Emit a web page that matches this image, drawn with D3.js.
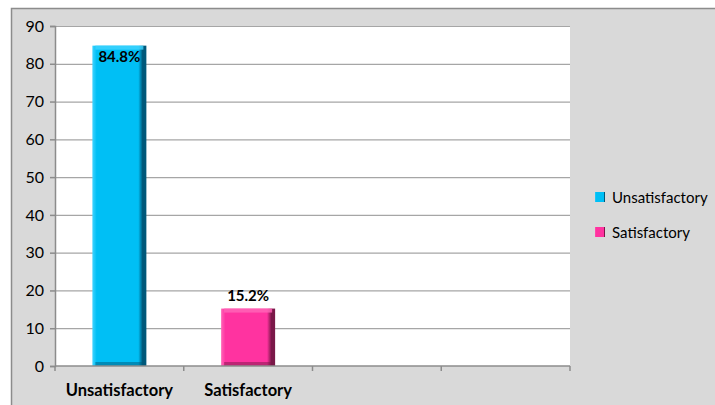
<!DOCTYPE html>
<html><head><meta charset="utf-8">
<script src="https://cdn.jsdelivr.net/npm/d3@7"></script>
<style>body{margin:0;background:#fff}svg{display:block}</style>
</head><body><svg id="c" width="715" height="405"></svg>
<script>
const categories = ["Unsatisfactory", "Satisfactory", "", ""];
const series = ["Unsatisfactory", "Satisfactory"];
const values = [84.8, 15.2];
const labels = ["84.8%", "15.2%"];
const yTicks = [0, 10, 20, 30, 40, 50, 60, 70, 80, 90];
const colors = [{main:"#00BFF5", light:"#40D4FF", dark:"#00587A"}, {main:"#FF33A0", light:"#FF66B8", dark:"#7A1848"}];

const svg = d3.select("#c");
const font = "Lato, 'Open Sans', sans-serif";
svg.append("rect").attr("x",0).attr("y",0).attr("width",715).attr("height",405).attr("fill","#fff");
svg.append("rect").attr("x",11.5).attr("y",8.5).attr("width",710).attr("height",410)
  .attr("fill","#d9d9d9").attr("stroke","#8c8c8c").attr("stroke-width",1.5);

const m = {l:55, r:570, t:26, b:366};
const x = d3.scaleBand().domain(d3.range(categories.length)).range([m.l, m.r]).paddingInner(0).paddingOuter(0);
const y = d3.scaleLinear().domain([0, 90]).range([m.b, m.t]);

svg.append("rect").attr("x",m.l).attr("y",m.t).attr("width",m.r-m.l).attr("height",m.b-m.t).attr("fill","#fff");

svg.append("g").selectAll("line").data(yTicks.filter(d=>d>0)).join("line")
  .attr("x1",m.l).attr("x2",m.r).attr("y1",d=>y(d)+0.5).attr("y2",d=>y(d)+0.5)
  .attr("stroke","#a6a6a6").attr("stroke-width",1.2);

const defs = svg.append("defs");
colors.forEach((c,i)=>{
  const g = defs.append("linearGradient").attr("id","g"+i).attr("x1","0").attr("x2","1").attr("y1","0").attr("y2","0");
  [[0,c.light],[0.08,c.main],[0.85,c.main],[0.93,c.dark],[1,c.dark]].forEach(s=>g.append("stop").attr("offset",s[0]).attr("stop-color",s[1]));
});

const bw = 54;
const bars = svg.append("g").selectAll("g").data(values).join("g");
bars.append("rect")
  .attr("x",(d,i)=>x(i)+x.bandwidth()/2-bw/2).attr("y",d=>y(d))
  .attr("width",bw).attr("height",d=>m.b-y(d))
  .attr("fill",(d,i)=>`url(#g${i})`);
bars.append("rect")
  .attr("x",(d,i)=>x(i)+x.bandwidth()/2-bw/2+3).attr("y",d=>y(d))
  .attr("width",bw-6).attr("height",4)
  .attr("fill",(d,i)=>colors[i].light).attr("opacity",0.8);
bars.append("rect")
  .attr("x",(d,i)=>x(i)+x.bandwidth()/2-bw/2+3).attr("y",m.b-4)
  .attr("width",bw-6).attr("height",4)
  .attr("fill",(d,i)=>colors[i].dark).attr("opacity",0.5);

const ya = svg.append("g").attr("transform",`translate(${m.l},0)`)
  .call(d3.axisLeft(y).tickValues(yTicks).tickSize(5).tickPadding(6));
ya.select(".domain").attr("stroke","#8c8c8c").attr("stroke-width",1.5);
ya.selectAll(".tick line").attr("stroke","#8c8c8c").attr("stroke-width",1.5);
ya.selectAll("text").attr("font-family",font).attr("font-size",16).attr("fill","#000");

const xa = svg.append("g");
xa.append("line").attr("x1",m.l).attr("x2",m.r).attr("y1",m.b).attr("y2",m.b).attr("stroke","#8c8c8c").attr("stroke-width",1.5);
xa.selectAll(".t").data(d3.range(categories.length+1)).join("line")
  .attr("x1",d=>m.l+d*x.bandwidth()).attr("x2",d=>m.l+d*x.bandwidth())
  .attr("y1",m.b).attr("y2",m.b+5).attr("stroke","#8c8c8c").attr("stroke-width",1.5);
xa.selectAll("text").data(categories).join("text")
  .attr("x",(d,i)=>x(i)+x.bandwidth()/2).attr("y",m.b+30)
  .attr("text-anchor","middle").attr("font-family",font).attr("font-weight","bold")
  .attr("font-size",16.5).attr("fill","#000").text(d=>d);

svg.append("g").selectAll("text").data(values).join("text")
  .attr("x",(d,i)=>x(i)+x.bandwidth()/2)
  .attr("y",(d,i)=> i===0 ? y(d)+16 : y(d)-8)
  .attr("text-anchor","middle").attr("font-family",font).attr("font-weight","bold")
  .attr("font-size",15).attr("fill","#000").text((d,i)=>labels[i]);

const lg = svg.append("g").selectAll("g").data(series).join("g")
  .attr("transform",(d,i)=>`translate(595,${192+i*35})`);
lg.append("rect").attr("width",10).attr("height",10).attr("fill",(d,i)=>`url(#g${i})`);
lg.append("text").attr("x",17).attr("y",10.5).attr("font-family",font).attr("font-size",15).attr("fill","#000").text(d=>d);
</script></body></html>
